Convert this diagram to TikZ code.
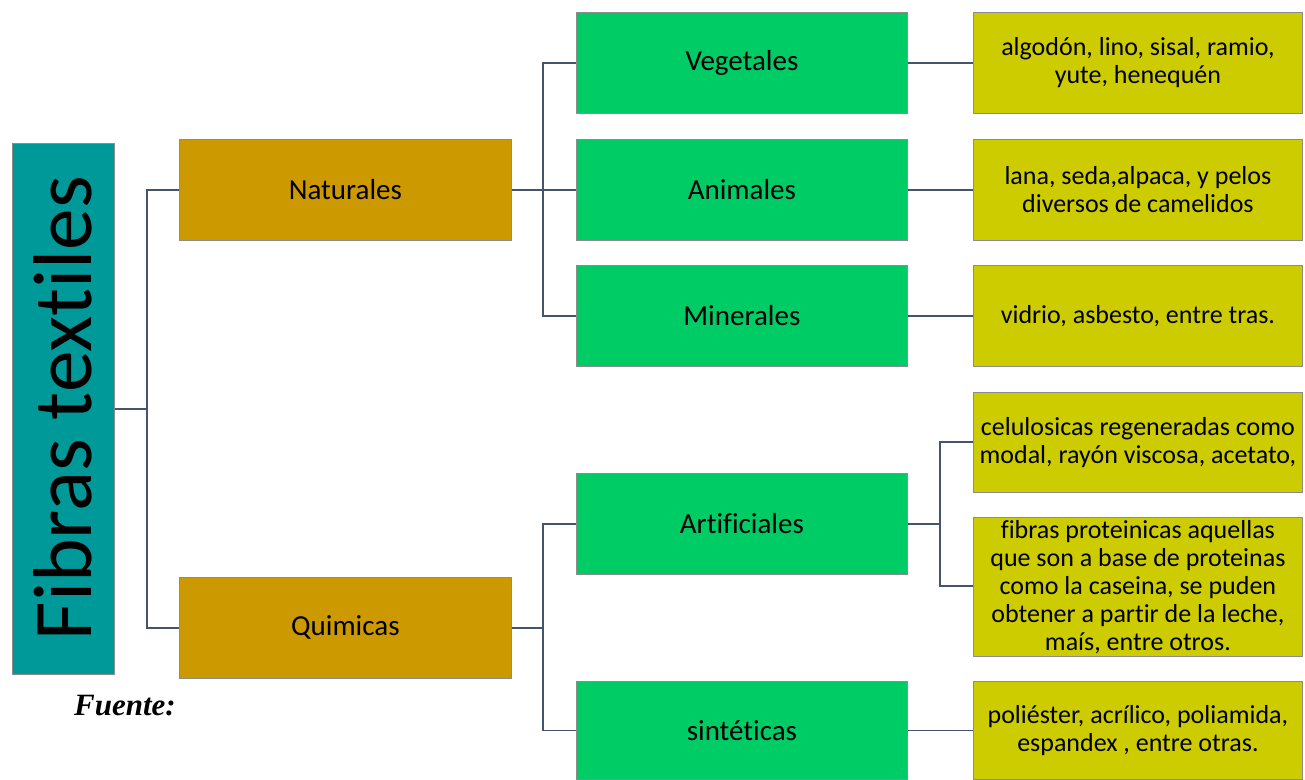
\documentclass[tikz,border=0pt]{standalone}
\usepackage{fontspec}
\setmainfont[Ligatures={NoCommon}]{Carlito}
\newfontfamily\captionserif{Liberation Serif}
\begin{document}
\begin{tikzpicture}[x=1pt,y=-1pt,
  every node/.style={inner sep=0pt},
  basebox/.style={draw=black!45, line width=0.8pt, minimum height=101pt, anchor=north west},
  rootbox/.style={basebox, fill=rootcol, minimum width=102pt, minimum height=531pt},
  catbox/.style={basebox, fill=catcol, minimum width=332pt, font=\fontsize{29}{34}\selectfont},
  subbox/.style={basebox, fill=subcol, minimum width=331pt, font=\fontsize{29}{34}\selectfont},
  leafbox/.style={basebox, fill=leafcol, minimum width=329pt, align=center, font=\fontsize{26}{28}\selectfont},
  link/.style={draw=linkcol, line width=1.6pt}]
\definecolor{rootcol}{HTML}{009999}
\definecolor{catcol}{HTML}{CC9900}
\definecolor{subcol}{HTML}{00CC66}
\definecolor{leafcol}{HTML}{CCCC00}
\definecolor{linkcol}{HTML}{44546A}
\useasboundingbox (0,0) rectangle (1305,779);

% root
\node[rootbox] (root) at (12,143) {};
\node[rotate=90, font=\fontsize{83.5}{90}\selectfont] (roottext) at (63,408) {Fibras textiles};

% first level
\node[catbox] (nat) at (179,139) {Naturales};
\node[catbox] (qui) at (179,577) {Quimicas};

% second level
\node[subbox] (veg) at (576,12) {Vegetales};
\node[subbox] (ani) at (576,139) {Animales};
\node[subbox] (min) at (576,265) {Minerales};
\node[subbox] (art) at (576,473) {Artificiales};
\node[subbox, minimum height=98pt] (sin) at (576,681) {sintéticas};

% leaves
\node[leafbox] (l1) at (973,12) {algodón, lino, sisal, ramio,\\yute, henequén};
\node[leafbox] (l2) at (973,139) {lana, seda,alpaca, y pelos\\diversos de camelidos};
\node[leafbox] (l3) at (973,265) {vidrio, asbesto, entre tras.};
\node[leafbox, minimum height=100pt] (l4) at (973,392) {celulosicas regeneradas como\\modal, rayón viscosa, acetato,};
\node[leafbox, minimum height=139pt] (l5) at (973,517) {fibras proteinicas aquellas\\que son a base de proteinas\\como la caseina, se puden\\obtener a partir de la leche,\\maís, entre otros.};
\node[leafbox, minimum height=98pt] (l6) at (973,681) {poliéster, acrílico, poliamida,\\espandex , entre otras.};

% source caption
\node[font=\fontsize{31}{34}\selectfont\captionserif\bfseries\itshape, anchor=west] (src) at (74,706) {Fuente:};

% connectors
\coordinate (j0) at (147,0);
\draw[link] (root.east) -- (root.east -| j0);
\draw[link] (nat.west) -| (j0 |- root.east) |- (qui.west);

\coordinate (j1) at (543,0);
\draw[link] (nat.east) -- (ani.west);
\draw[link] (veg.west) -| (j1 |- veg.west) -- (j1 |- min.west) -- (min.west);

\coordinate (j2) at (543,0);
\draw[link] (qui.east) -- (j2 |- qui.east);
\draw[link] (art.west) -| (j2 |- art.west) -- (j2 |- sin.west) -- (sin.west);

\draw[link] (veg.east) -- (l1.west);
\draw[link] (ani.east) -- (l2.west);
\draw[link] (min.east) -- (l3.west);
\draw[link] (sin.east) -- (l6.west);

\coordinate (j3) at (940,0);
\draw[link] (art.east) -- (j3 |- art.east);
\draw[link] (l4.west |- 0,442) -- (j3 |- 0,442) -- (j3 |- 0,586) -- (l5.west |- 0,586);
\end{tikzpicture}
\end{document}
